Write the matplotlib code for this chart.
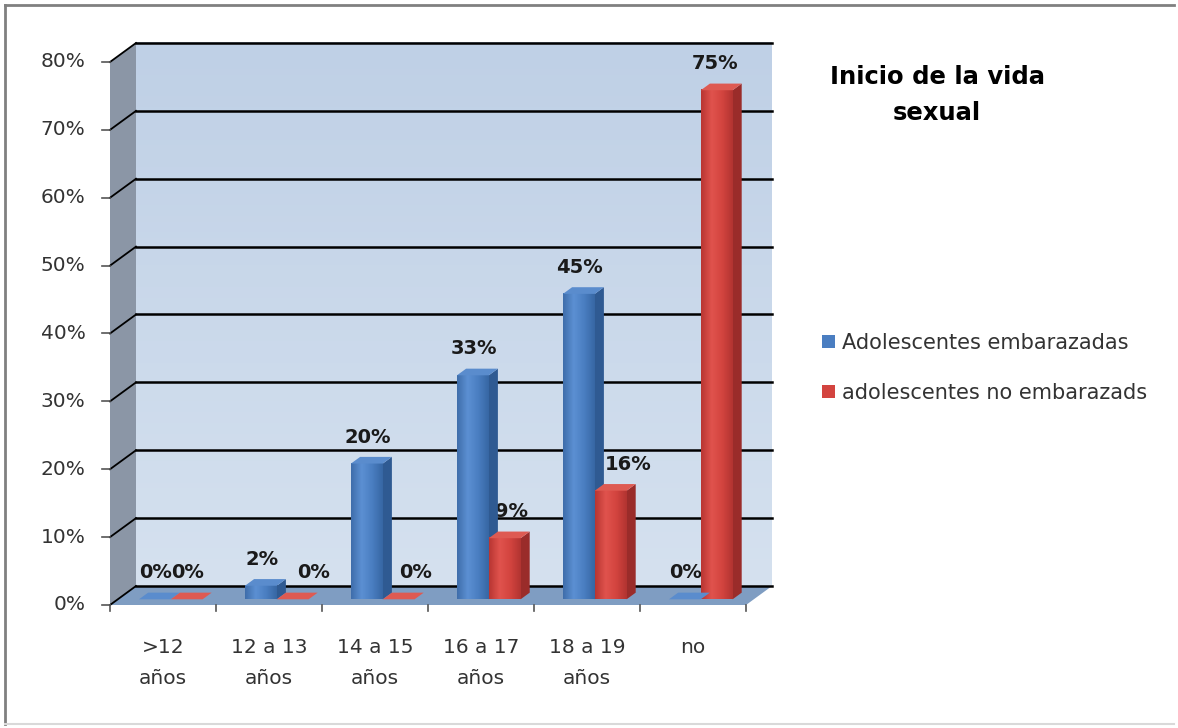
import numpy as np
import matplotlib
matplotlib.use("Agg")
import matplotlib.pyplot as plt
from matplotlib.patches import Polygon, Patch
from matplotlib.colors import LinearSegmentedColormap

categorias = [">12\naños", "12 a 13\naños", "14 a 15\naños", "16 a 17\naños", "18 a 19\naños", "no"]
embarazadas = [0, 2, 20, 33, 45, 0]
no_embarazadas = [0, 0, 0, 9, 16, 75]
nombres = ["Adolescentes embarazadas", "adolescentes no embarazads"]
marcas_y = [0, 10, 20, 30, 40, 50, 60, 70, 80]

W_FIG, H_FIG = 1178, 728
fig = plt.figure(figsize=(W_FIG / 100, H_FIG / 100), dpi=100)
fig.patch.set_facecolor("white")

# ejes = plano frontal del grafico 3D (en pixeles: x 110-746, y 605-62)
ax = fig.add_axes([110 / W_FIG, 123 / H_FIG, 636 / W_FIG, 543 / H_FIG])
n = len(categorias)
ymax = marcas_y[-1]
ax.set_xlim(0, n)
ax.set_ylim(0, ymax)
ax.axis("off")

px_x = 636 / n          # pixeles por categoria
px_y = 543 / ymax       # pixeles por punto porcentual
DX = 26 / px_x          # profundidad del "cubo"
DY = 19 / px_y

# paredes y piso
pared = Polygon([(DX, DY), (n + DX, DY), (n + DX, ymax + DY), (DX, ymax + DY)],
                closed=True, facecolor="#c6d5e9", edgecolor="none", zorder=1, clip_on=False)
ax.add_patch(pared)
grad = np.linspace(0, 1, 100).reshape(-1, 1)
cmap_pared = LinearSegmentedColormap.from_list("pared", ["#d5e1ef", "#bfd0e6"])
im = ax.imshow(grad, extent=[DX, n + DX, DY, ymax + DY], origin="lower", cmap=cmap_pared,
               aspect="auto", zorder=1.1, clip_on=False)
im.set_clip_path(pared)

lado = Polygon([(0, 0), (DX, DY), (DX, ymax + DY), (0, ymax)], closed=True,
               facecolor="#8b96a6", edgecolor="none", zorder=1, clip_on=False)
ax.add_patch(lado)
piso = Polygon([(0, 0), (n, 0), (n + DX, DY), (DX, DY)], closed=True,
               facecolor="#7f9dc2", edgecolor="none", zorder=1.2, clip_on=False)
ax.add_patch(piso)

# lineas de division
for v in marcas_y:
    ax.plot([DX, n + DX], [v + DY, v + DY], color="black", lw=1.8, zorder=2, clip_on=False)
    ax.plot([0, DX], [v, v + DY], color="black", lw=1.3, zorder=2, clip_on=False)
    ax.plot([-0.08, 0], [v, v], color="#555555", lw=1.2, zorder=2, clip_on=False)
    ax.text(-0.23, v, f"{v}%", ha="right", va="center", fontsize=14.5, color="#333333")

for i in range(n + 1):
    ax.plot([i, i], [0, -0.9], color="#555555", lw=1.2, clip_on=False)

for i, cat in enumerate(categorias):
    ax.text(i + 0.5, -4.9, cat, ha="center", va="top", fontsize=14.5,
            color="#333333", linespacing=1.75)

# barras
F0, F1 = 0.3, 0.65
ANCHO = 0.3
base = F0 * DY
ddx = (F1 - F0) * DX
ddy = (F1 - F0) * DY

estilos = [
    dict(cara=["#3f6eab", "#5c90d3", "#4a7ec1", "#3767a4"], lado="#2f5a92", tapa="#5a8ccd"),
    dict(cara=["#b93633", "#e0534d", "#d3443f", "#b23431"], lado="#9a2c2a", tapa="#de5a52"),
]


def barra_3d(x0, valor, est):
    top = base + valor
    cara = ax.bar(x0, valor, width=ANCHO, bottom=base, align="edge",
                  color=est["cara"][1], zorder=3, clip_on=False)[0]
    if valor > 0:
        g = np.linspace(0, 1, 50).reshape(1, -1)
        cm = LinearSegmentedColormap.from_list("c", est["cara"])
        im = ax.imshow(g, extent=[x0, x0 + ANCHO, base, top], cmap=cm,
                       aspect="auto", zorder=3.1, clip_on=False)
        im.set_clip_path(cara)
    ax.add_patch(Polygon([(x0 + ANCHO, base), (x0 + ANCHO + ddx, base + ddy),
                          (x0 + ANCHO + ddx, top + ddy), (x0 + ANCHO, top)],
                         closed=True, facecolor=est["lado"], edgecolor="none",
                         zorder=3, clip_on=False))
    ax.add_patch(Polygon([(x0, top), (x0 + ANCHO, top), (x0 + ANCHO + ddx, top + ddy),
                          (x0 + ddx, top + ddy)], closed=True, facecolor=est["tapa"],
                         edgecolor="none", zorder=3.2, clip_on=False))


ajuste_rojo = [1, 21, 17, 7, 17, -2]   # desplazamiento en px de las etiquetas rojas
for i in range(n):
    xb = i + 0.5 - ANCHO + F0 * DX
    xr = i + 0.5 + F0 * DX
    barra_3d(xb, embarazadas[i], estilos[0])
    barra_3d(xr, no_embarazadas[i], estilos[1])
    ax.text(xb + ANCHO / 2 + 1 / px_x, embarazadas[i] + base + 3.9, f"{embarazadas[i]}%",
            ha="center", va="center", fontsize=14, fontweight="bold", color="#1a1a1a",
            zorder=2.5)
    ax.text(xr + ANCHO / 2 + ajuste_rojo[i] / px_x, no_embarazadas[i] + base + 3.9,
            f"{no_embarazadas[i]}%", ha="center", va="center", fontsize=14,
            fontweight="bold", color="#1a1a1a", zorder=2.5)

ax.set_xlim(0, n)
ax.set_ylim(0, ymax)

# titulo y leyenda
fig.text(937 / W_FIG, 1 - 95 / H_FIG, "Inicio de la vida\nsexual", ha="center", va="center",
         multialignment="center", fontsize=17.5, fontweight="bold", linespacing=1.6)

manejadores = [Patch(facecolor="#4a7ec1", edgecolor="none"),
               Patch(facecolor="#d3443f", edgecolor="none")]
fig.legend(manejadores, nombres, loc="upper left",
           bbox_to_anchor=(822 / W_FIG, 1 - 333 / H_FIG), frameon=False,
           fontsize=15, handlelength=0.6, handleheight=0.6, handletextpad=0.35,
           labelspacing=1.45, borderpad=0, borderaxespad=0, labelcolor="#333333")

# marco exterior
fig.add_artist(plt.Line2D([5 / W_FIG, 5 / W_FIG], [1 - 5 / H_FIG, 1 - 724 / H_FIG],
                          color="#808080", lw=2))
fig.add_artist(plt.Line2D([5 / W_FIG, 1174 / W_FIG], [1 - 5 / H_FIG, 1 - 5 / H_FIG],
                          color="#808080", lw=2))
fig.add_artist(plt.Line2D([5 / W_FIG, 1174 / W_FIG], [1 - 724 / H_FIG, 1 - 724 / H_FIG],
                          color="#d9d9d9", lw=1.5))

fig.savefig("out.png", dpi=100)
